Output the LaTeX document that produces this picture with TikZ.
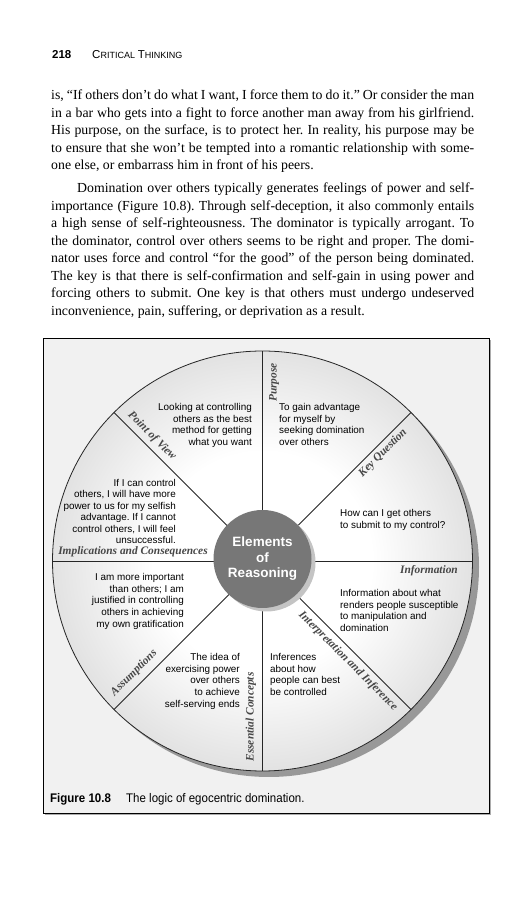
\documentclass[tikz,border=0pt]{standalone}
\usepackage{fontspec}
\setmainfont{Liberation Serif}
\setsansfont{Liberation Sans}
\newfontfamily\capfont[FakeStretch=0.92]{Liberation Sans}
\definecolor{framefill}{HTML}{F1F1F1}
\definecolor{rimgray}{HTML}{A6A6A6}
\definecolor{shadowgray}{HTML}{989898}
\definecolor{hubgray}{HTML}{777777}
\definecolor{hubshadow}{HTML}{C4C4C4}
\definecolor{labelgray}{HTML}{474747}
\definecolor{linegray}{HTML}{262626}
\pgfdeclareradialshading{wheelshade}{\pgfpointorigin}{color(0bp)=(white); color(13bp)=(white); color(50bp)=(rimgray)}
\frenchspacing
\begin{document}
\begin{tikzpicture}[x=1pt,y=1pt,
  bodyline/.style={anchor=base west, inner sep=0, font=\fontsize{13.8}{17.5}\selectfont},
  sector/.style={inner sep=0, font=\sffamily\fontsize{9.9}{11.8}\selectfont},
  elem/.style={inner sep=0, text=labelgray, font=\bfseries\itshape\fontsize{11.4}{13}\selectfont},
  spoke/.style={draw=linegray, line width=0.8pt}]
\useasboundingbox (0,0) rectangle (531,900);
\fill[white] (0,0) rectangle (531,900);
% header
\node[anchor=base west, inner sep=0, font=\sffamily\bfseries\fontsize{11.5}{13}\selectfont] (pnum) at (52,841) {218};
\node[anchor=base west, inner sep=0, font=\sffamily] (runhead) at (92,841) {{\fontsize{11.5}{13}\selectfont C}{\fontsize{9}{11}\selectfont RITICAL} {\fontsize{11.5}{13}\selectfont T}{\fontsize{9}{11}\selectfont HINKING}};
% paragraph 1
\node[bodyline] (p1a) at (51,800) {\makebox[423pt][s]{is, “If others don’t do what I want, I force them to do it.” Or consider the man}};
\node[bodyline] (p1b) at (51,782.5) {\makebox[423pt][s]{in a bar who gets into a fight to force another man away from his girlfriend.}};
\node[bodyline] (p1c) at (51,765) {\makebox[423pt][s]{His purpose, on the surface, is to protect her. In reality, his purpose may be}};
\node[bodyline] (p1d) at (51,747.5) {\makebox[423pt][s]{to ensure that she won’t be tempted into a romantic relationship with some-}};
\node[bodyline] (p1e) at (51,730) {one else, or embarrass him in front of his peers.};
% paragraph 2
\node[bodyline] (p2a) at (77,707) {\makebox[397pt][s]{Domination over others typically generates feelings of power and self-}};
\node[bodyline] (p2b) at (51,689.5) {\makebox[423pt][s]{importance (Figure 10.8). Through self-deception, it also commonly entails}};
\node[bodyline] (p2c) at (51,672) {\makebox[423pt][s]{a high sense of self-righteousness. The dominator is typically arrogant. To}};
\node[bodyline] (p2d) at (51,654.5) {\makebox[423pt][s]{the dominator, control over others seems to be right and proper. The domi-}};
\node[bodyline] (p2e) at (51,637) {\makebox[423pt][s]{nator uses force and control “for the good” of the person being dominated.}};
\node[bodyline] (p2f) at (51,619.5) {\makebox[423pt][s]{The key is that there is self-confirmation and self-gain in using power and}};
\node[bodyline] (p2g) at (51,602) {\makebox[423pt][s]{forcing others to submit. One key is that others must undergo undeserved}};
\node[bodyline] (p2h) at (51,584.5) {inconvenience, pain, suffering, or deprivation as a result.};
% frame
\fill[gray!65] (44.5,84.5) rectangle (490.5,559.5);
\draw[line width=1pt, fill=framefill] (43,86) rectangle (489,561);
% wheel
\coordinate (wc) at (262.5,339);
\fill[shadowgray] (269,333) circle (210);
\shade[shading=wheelshade] (wc) circle (210);
\draw[linegray, line width=0.8pt] (wc) circle (210);
\foreach \a in {0,45,90,135,180,225,270,315}{
  \path (wc) ++(\a:210) coordinate (rim\a);
  \draw[spoke] (wc) -- (rim\a);
}
% hub
\fill[hubshadow] (266.5,337.5) circle (49);
\node[circle, fill=hubgray, minimum size=98pt, inner sep=0, text=white, align=center,
  font=\sffamily\bfseries\fontsize{13.5}{15.5}\selectfont] (hub) at (262.5,341) {Elements\\of\\Reasoning};
% element labels
\node[elem, rotate=90] (lpurpose) at (274,517.5) {Purpose};
\node[elem, rotate=-45] (lpov) at (152,464) {Point of View};
\node[elem, rotate=45] (lkey) at (383,447) {Key Question};
\node[elem] (linfo) at (429,329) {Information};
\node[elem, rotate=-45] (linterp) at (348,239) {Interpretation and Inference};
\node[elem, rotate=90] (lconc) at (251,183) {Essential Concepts};
\node[elem, rotate=45] (lassum) at (134,227) {Assumptions};
\node[elem] (limpl) at (133,348) {Implications and Consequences};
% sector texts
\node[sector, anchor=north east, align=right] (tpov) at (252,497) {Looking at controlling\\others as the best\\method for getting\\what you want};
\node[sector, anchor=north west, align=left] (tpurp) at (279,497) {To gain advantage\\for myself by\\seeking domination\\over others};
\node[sector, anchor=north west, align=left] (tkey) at (340,391) {How can I get others\\to submit to my control?};
\node[sector, anchor=north east, align=right, font=\sffamily\fontsize{9.9}{11.5}\selectfont] (timpl) at (176,421) {If I can control\\others, I will have more\\power to us for my selfish\\advantage. If I cannot\\control others, I will feel\\unsuccessful.};
\node[sector, anchor=north east, align=right] (tassum) at (184,327) {I am more important\\than others; I am\\justified in controlling\\others in achieving\\my own gratification};
\node[sector, anchor=north east, align=right] (tconc) at (240,247) {The idea of\\exercising power\\over others\\to achieve\\self-serving ends};
\node[sector, anchor=north west, align=left] (tinterp) at (270,247) {Inferences\\about how\\people can best\\be controlled};
\node[sector, anchor=north west, align=left] (tinfo) at (340,311) {Information about what\\renders people susceptible\\to manipulation and\\domination};
% caption
\node[anchor=base west, inner sep=0, font=\capfont\bfseries\fontsize{12.5}{14}\selectfont] (figlab) at (50,97) {Figure 10.8};
\node[anchor=base west, inner sep=0, font=\capfont\fontsize{12.5}{14}\selectfont] (figcap) at (126,97) {The logic of egocentric domination.};
\end{tikzpicture}
\end{document}
